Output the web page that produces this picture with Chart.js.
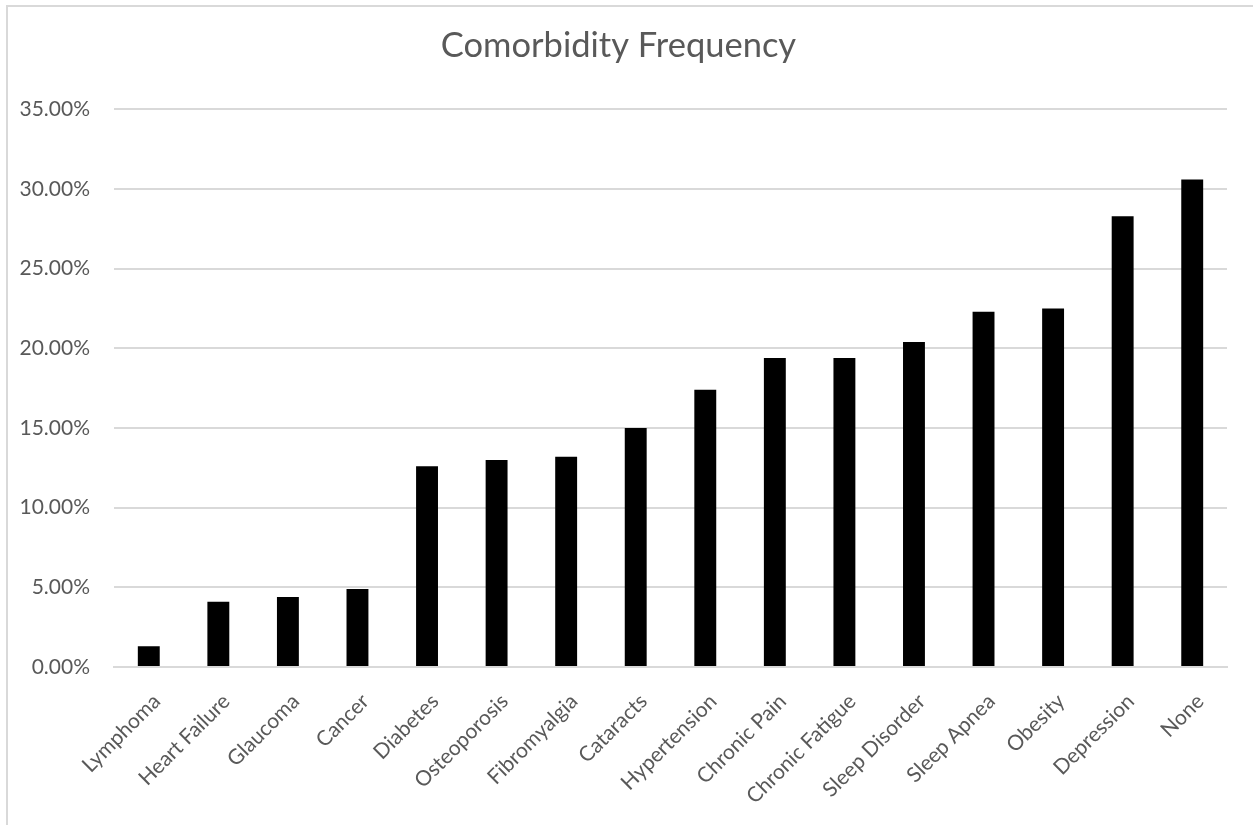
<!DOCTYPE html>
<html>
<head>
<meta charset="utf-8">
<script src="https://cdn.jsdelivr.net/npm/chart.js@4/dist/chart.umd.min.js"></script>
<style>
  html, body { margin: 0; padding: 0; background: #ffffff; }
  #wrap { position: relative; width: 1253px; height: 825px; overflow: hidden; }
  #frame { position: absolute; left: 6px; top: 5px; width: 1270px; height: 840px;
           border: 2px solid #d9d9d9; box-sizing: border-box; }
  #chart { position: absolute; left: 0; top: 0; }
</style>
</head>
<body>
<div id="wrap">
  <div id="frame"></div>
  <canvas id="chart" width="1253" height="825"></canvas>
</div>
<script>
// Share of patients reporting each comorbidity (percent)
const categories = [
  'Lymphoma', 'Heart Failure', 'Glaucoma', 'Cancer', 'Diabetes', 'Osteoporosis',
  'Fibromyalgia', 'Cataracts', 'Hypertension', 'Chronic Pain', 'Chronic Fatigue',
  'Sleep Disorder', 'Sleep Apnea', 'Obesity', 'Depression', 'None'
];
const frequency = [
  1.3, 4.1, 4.4, 4.9, 12.6, 13.0,
  13.2, 15.0, 17.4, 19.4, 19.4,
  20.4, 22.3, 22.5, 28.3, 30.6
];
const yTicks = [0, 5, 10, 15, 20, 25, 30, 35];
const chartTitle = 'Comorbidity Frequency';

const textColor = '#595959';
const gridColor = '#d9d9d9';
const fontFamily = 'Lato, "Open Sans", sans-serif';

new Chart(document.getElementById('chart'), {
  type: 'bar',
  data: {
    labels: categories,
    datasets: [{
      data: frequency,
      backgroundColor: '#000000',
      borderWidth: 0,
      categoryPercentage: 1.0,
      barPercentage: 0.315
    }]
  },
  options: {
    responsive: false,
    animation: false,
    layout: { padding: { left: 10, right: 26, top: 0, bottom: 0 } },
    plugins: {
      legend: { display: false },
      tooltip: { enabled: false },
      title: {
        display: true,
        text: chartTitle,
        color: textColor,
        font: { family: fontFamily, size: 34.5, weight: 'normal' },
        padding: { top: 25, bottom: 43 }
      }
    },
    scales: {
      x: {
        grid: { display: false, drawTicks: false },
        border: { display: true, color: gridColor, width: 2 },
        ticks: {
          color: textColor,
          font: { family: fontFamily, size: 21 },
          minRotation: 45,
          maxRotation: 45,
          padding: 22,
          labelOffset: 8
        },
        afterFit: (scale) => { scale.height = 158; }
      },
      y: {
        min: 0,
        max: 35,
        afterBuildTicks: (scale) => { scale.ticks = yTicks.map(v => ({ value: v })); },
        grid: { color: gridColor, lineWidth: 2, drawTicks: false },
        border: { display: false },
        ticks: {
          color: textColor,
          font: { family: fontFamily, size: 21 },
          padding: 24,
          callback: (v) => v.toFixed(2) + '%'
        },
        afterFit: (scale) => { scale.width = 104; }
      }
    }
  }
});
</script>
</body>
</html>
